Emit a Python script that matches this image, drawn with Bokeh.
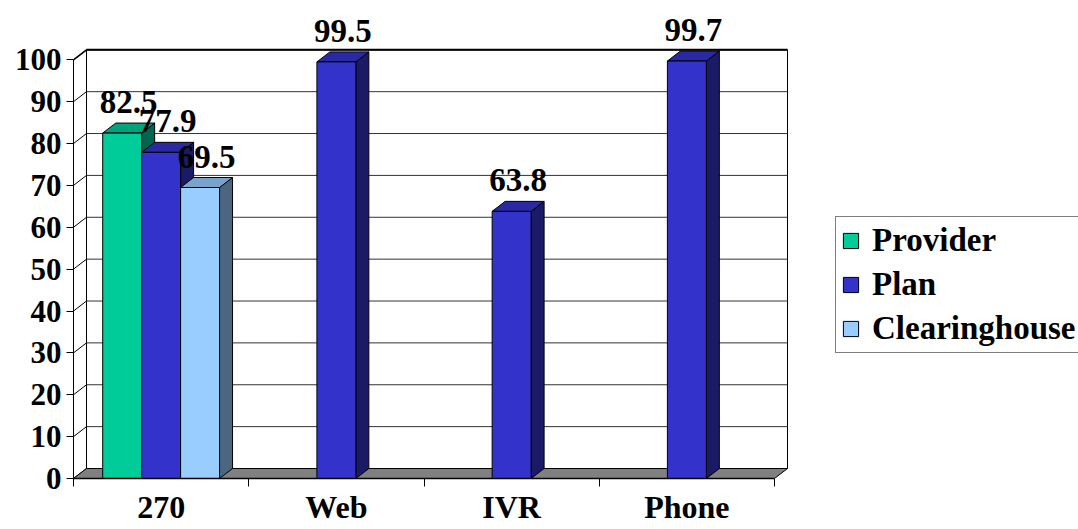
from bokeh.plotting import figure
from bokeh.models import (ColumnDataSource, Legend, LegendItem, FixedTicker,
                          Range1d)
from bokeh.core.properties import value
from bokeh.embed import file_html
from bokeh.resources import INLINE

# ---- data ----
categories = ["270", "Web", "IVR", "Phone"]
series_names = ["Provider", "Plan", "Clearinghouse"]
provider = [82.5, None, None, None]
plan = [77.9, 99.5, 63.8, 99.7]
clearinghouse = [69.5, None, None, None]
y_ticks = [0, 10, 20, 30, 40, 50, 60, 70, 80, 90, 100]

front_colors = ["#00CC99", "#3333CC", "#99CCFF"]
top_colors = ["#00A37A", "#2929A3", "#7AA3CC"]
side_colors = ["#00664D", "#1A1A66", "#4D6680"]

FONT = "Liberation Serif"

# ---- geometry (style) ----
W, H = 1078, 529
left_b, bottom_b = 73, 51
px_per_x = 175.25
px_per_y = 4.187
frame_w = W - left_b
frame_h = H - bottom_b
x_end = frame_w / px_per_x
y_end = frame_h / px_per_y
DX = 13 / px_per_x      # depth offset in data units
DY = 10 / px_per_y
LABEL_GAP = 5.0         # value-label lift in data units
n = len(categories)
bw = 1.0 / 4.5          # bar width (gap 150%)

p = figure(width=W, height=H, output_backend="svg", toolbar_location=None,
           x_range=Range1d(0, x_end), y_range=Range1d(0, y_end),
           min_border_left=left_b, min_border_bottom=bottom_b,
           min_border_top=0, min_border_right=0)
p.outline_line_color = None
p.xgrid.visible = False
p.ygrid.visible = False
p.background_fill_color = "white"
p.border_fill_color = "white"

# ---- back wall ----
p.quad(left=[DX], right=[n + DX], bottom=[DY], top=[100 + DY],
       fill_color="white", line_color="black", line_width=1)
gx = [[DX, n + DX] for t in y_ticks[1:]]
gy = [[t + DY, t + DY] for t in y_ticks[1:]]
p.multi_line(gx, gy, line_color="#333333", line_width=1)
lx = [[0, DX] for t in y_ticks]
ly = [[t, t + DY] for t in y_ticks]
p.multi_line(lx, ly, line_color="black", line_width=1)
p.line([DX, DX], [DY, 100 + DY], line_color="black", line_width=1)
p.line([0, DX], [100, 100 + DY], line_color="black", line_width=1.5)
p.line([DX, n + DX], [100 + DY, 100 + DY], line_color="black", line_width=2)

# ---- floor ----
p.patch([0, n, n + DX, DX], [0, 0, DY, DY], fill_color="#808080",
        line_color="black", line_width=1)

# ---- bars ----
all_series = [provider, plan, clearinghouse]
legend_items = []
lab_x, lab_y, lab_t = [], [], []
for si, vals in enumerate(all_series):
    l, r, t, topx, topy, sidex, sidey = [], [], [], [], [], [], []
    for ci, v in enumerate(vals):
        if v is None:
            continue
        x0 = ci + (1 - 3 * bw) / 2 + si * bw
        x1 = x0 + bw
        l.append(x0); r.append(x1); t.append(v)
        topx.append([x0, x1, x1 + DX, x0 + DX])
        topy.append([v, v, v + DY, v + DY])
        sidex.append([x1, x1 + DX, x1 + DX, x1])
        sidey.append([0, DY, v + DY, v])
        lab_x.append((x0 + x1) / 2 + DX / 2)
        lab_y.append(v + DY + LABEL_GAP)
        lab_t.append(f"{v:.1f}")
    p.patches(sidex, sidey, fill_color=side_colors[si], line_color="black",
              line_width=1)
    p.patches(topx, topy, fill_color=top_colors[si], line_color="black",
              line_width=1)
    src = ColumnDataSource(dict(left=l, right=r, top=t, bottom=[0] * len(l)))
    rr = p.quad(left="left", right="right", top="top", bottom="bottom",
                source=src, fill_color=front_colors[si], line_color="black",
                line_width=1)
    legend_items.append(LegendItem(label=series_names[si], renderers=[rr]))

p.text(x=lab_x, y=lab_y, text=lab_t, text_font=value(FONT),
       text_font_style="bold", text_font_size="33px", text_align="center",
       text_baseline="alphabetic", text_color="black")

# ---- axes ----
yax = p.yaxis[0]
yax.ticker = FixedTicker(ticks=y_ticks)
yax.bounds = (0, 100)
yax.major_tick_out = 7
yax.major_tick_in = 0
yax.minor_tick_out = 0
yax.minor_tick_in = 0
yax.major_label_standoff = 5
yax.major_label_text_font = FONT
yax.major_label_text_font_style = "bold"
yax.major_label_text_font_size = "31px"
yax.major_label_text_color = "black"
yax.axis_line_color = "black"

xax = p.xaxis[0]
centers = [i + 0.5 for i in range(n)]
xax.ticker = FixedTicker(ticks=centers, minor_ticks=list(range(n + 1)))
xax.major_label_overrides = {c: lab for c, lab in zip(centers, categories)}
xax.bounds = (0, n)
xax.major_tick_out = 0
xax.major_tick_in = 0
xax.minor_tick_out = 8
xax.minor_tick_in = 0
xax.minor_tick_line_color = "black"
xax.major_label_standoff = 2
xax.major_label_text_font = FONT
xax.major_label_text_font_style = "bold"
xax.major_label_text_font_size = "32px"
xax.major_label_text_color = "black"
xax.axis_line_color = "black"
xax.axis_line_width = 1.5

# ---- legend ----
legend = Legend(items=legend_items, location=(835 - left_b, frame_h - 353),
                orientation="vertical")
legend.label_text_font = FONT
legend.label_text_font_style = "bold"
legend.label_text_font_size = "33px"
legend.label_text_color = "black"
legend.glyph_width = 19
legend.glyph_height = 19
legend.label_standoff = 12
legend.padding = 5
legend.spacing = 7
legend.margin = 0
legend.border_line_color = "black"
legend.border_line_width = 1
legend.background_fill_color = "white"
legend.background_fill_alpha = 1
p.add_layout(legend)

open("out.html", "w").write(file_html(p, INLINE))
